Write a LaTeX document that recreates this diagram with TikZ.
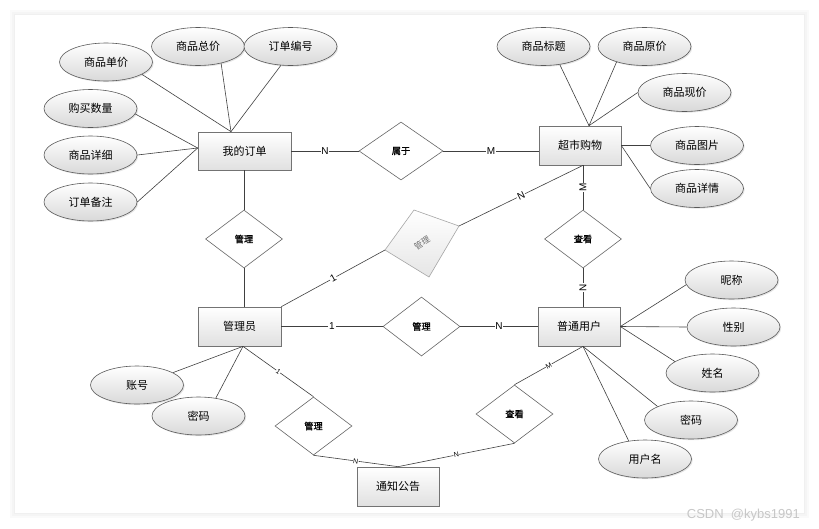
\documentclass[tikz,border=0pt]{standalone}
\usepackage{fontspec}
\setmainfont{Noto Sans CJK SC}
\newfontfamily\latn{Liberation Sans}
\newfontfamily\cjkb[FakeBold=1.2]{Noto Sans CJK SC}
\usetikzlibrary{shapes.geometric,shadows}
\begin{document}
\begin{tikzpicture}[x=1pt,y=-1pt,
  ent/.style={draw=black!55, line width=0.7pt, top color=white, bottom color=black!12,
    minimum width=82pt, minimum height=39pt, inner sep=0pt,
    font=\fontsize{11}{13}\selectfont,
    drop shadow={shadow xshift=1.2pt,shadow yshift=-1.2pt,opacity=0.25}},
  attr/.style={ellipse, draw=black!65, line width=0.6pt, top color=white, bottom color=black!15,
    minimum width=93pt, minimum height=38pt, inner sep=0pt,
    font=\fontsize{11}{13}\selectfont,
    drop shadow={shadow xshift=1.2pt,shadow yshift=-1.2pt,opacity=0.2}},
  rel/.style={diamond, draw=black!60, line width=0.6pt, fill=white,
    minimum width=77pt, minimum height=58pt, inner sep=0pt,
    font=\cjkb\fontsize{9.2}{11}\selectfont},
  conn/.style={draw=black!75, line width=0.6pt},
  card/.style={font=\latn\fontsize{10}{12}\selectfont, fill=white, inner sep=0.8pt},
  scard/.style={font=\latn\fontsize{7}{8}\selectfont, fill=white, inner sep=0.4pt},
]
\useasboundingbox (0,0) rectangle (819,528);
% panel with soft shadow
\fill[black!2] (10,10) rectangle (809,518);
\fill[black!4] (12,12) rectangle (807,516);
\fill[black!6] (14,14) rectangle (805,514);
\fill[white] (15,15) rectangle (804,513);

% entities
\node[ent, minimum width=93pt, minimum height=38pt] (o) at (244.5,151) {我的订单};
\node[ent] (s) at (580,145.5) {超市购物};
\node[ent, minimum width=83pt] (a) at (239.5,326.5) {管理员};
\node[ent] (u) at (579,326.5) {普通用户};
\node[ent] (n) at (398,486.5) {通知公告};

% relationships
\node[rel, minimum width=84pt] (b) at (401,151) {属于};
\node[rel] (gm1) at (244,239) {管理};
\node[rel] (cv) at (583,239) {查看};
\node[rel, minimum height=59pt] (gm2) at (421.5,326.5) {管理};
\node[rel] (gm3) at (313.5,426) {管理};
\node[rel] (cv2) at (514.5,414) {查看};

% gray tilted relationship
\coordinate (gdT) at (414,210);
\coordinate (gdR) at (459,226);
\coordinate (gdB) at (429,277);
\coordinate (gdL) at (385,250);
\draw[draw=black!35, line width=0.6pt, top color=white, bottom color=black!10] (gdT) -- (gdR) -- (gdB) -- (gdL) -- cycle;
\node[rotate=32, text=black!55, inner sep=0pt, font=\fontsize{8.5}{10}\selectfont] (gd) at (422,243) {管理};

% attributes of 我的订单
\node[attr] (o1) at (106,62) {商品单价};
\node[attr] (o2) at (198,46.5) {商品总价};
\node[attr] (o3) at (290.5,46.5) {订单编号};
\node[attr] (o4) at (90.5,108.5) {购买数量};
\node[attr] (o5) at (90.5,155) {商品详细};
\node[attr] (o6) at (90.5,202) {订单备注};
% attributes of 超市购物
\node[attr] (s1) at (543.5,46.5) {商品标题};
\node[attr] (s2) at (644.5,46.5) {商品原价};
\node[attr] (s3) at (684.5,92.5) {商品现价};
\node[attr] (s4) at (697,145.5) {商品图片};
\node[attr] (s5) at (697,188.5) {商品详情};
% attributes of 普通用户
\node[attr] (u1) at (731.5,280) {昵称};
\node[attr] (u2) at (733.5,327) {性别};
\node[attr] (u3) at (712.5,373) {姓名};
\node[attr] (u4) at (691,420) {密码};
\node[attr] (u5) at (645,459) {用户名};
% attributes of 管理员
\node[attr] (a1) at (137,385) {账号};
\node[attr] (a2) at (198.5,416) {密码};

% convergence points
\coordinate (oT) at ([xshift=-13.5pt]o.north);
\coordinate (oL) at ([yshift=3pt]o.west);
\coordinate (sT) at ([xshift=9pt]s.north);
\coordinate (sB) at ([xshift=3pt]s.south);
\coordinate (uB) at ([xshift=4pt]u.south);
\coordinate (aB) at ([xshift=3.5pt]a.south);

% attribute connectors
\draw[conn] (o1.-19) -- (oT);
\draw[conn] (o2.-36) -- (oT);
\draw[conn] (o3.-117) -- (oT);
\draw[conn] (o4.-7) -- (oL);
\draw[conn] (o5.east) -- (oL);
\draw[conn] (o6.east) -- (oL);
\draw[conn] (s1.-48) -- (sT);
\draw[conn] (s2.-151) -- (sT);
\draw[conn] (s3.west) -- (sT);
\draw[conn] (s4.west) -- (s.east);
\draw[conn] (s5.west) -- (s.east);
\draw[conn] (u1.-174) -- (u.east);
\draw[conn] (u2.west) -- (u.east);
\draw[conn] (u3.163) -- (u.east);
\draw[conn] (u4.158) -- (uB);
\draw[conn] (u5.132) -- (uB);
\draw[conn] (a1.19) -- (aB);
\draw[conn] (a2.46) -- (aB);

% relationship connectors
\draw[conn] (o.east) -- node[card]{N} (b.west);
\draw[conn] (b.east) -- node[card]{M} (b.east -| s.west);
\draw[conn] (o.south -| gm1.north) -- (gm1.north);
\draw[conn] (gm1.south) -- (gm1.south |- a.north);
\draw[conn] (cv.north |- s.south) -- node[card, rotate=90]{M} (cv.north);
\draw[conn] (cv.south) -- node[card, rotate=90]{N} (cv.south |- u.north);
\draw[conn] (a.north east) -- node[card, sloped]{1} (gdL);
\draw[conn] (gdR) -- node[card, sloped]{N} (sB);
\draw[conn] (a.east) -- node[card]{1} (gm2.west);
\draw[conn] (gm2.east) -- node[card]{N} (u.west);
\draw[conn] (aB) -- node[scard, sloped]{1} (gm3.north);
\draw[conn] (gm3.south) -- node[scard, sloped]{N} (n.north);
\draw[conn] (uB) -- node[scard, sloped]{M} (cv2.north);
\draw[conn] (cv2.south) -- node[scard, sloped]{N} (n.north);

% watermark
\node[font=\latn\fontsize{13}{15}\selectfont, text=black!22, anchor=base east, inner sep=0pt] (wm) at (800,518) {CSDN\ \ @kybs1991};
\end{tikzpicture}
\end{document}
